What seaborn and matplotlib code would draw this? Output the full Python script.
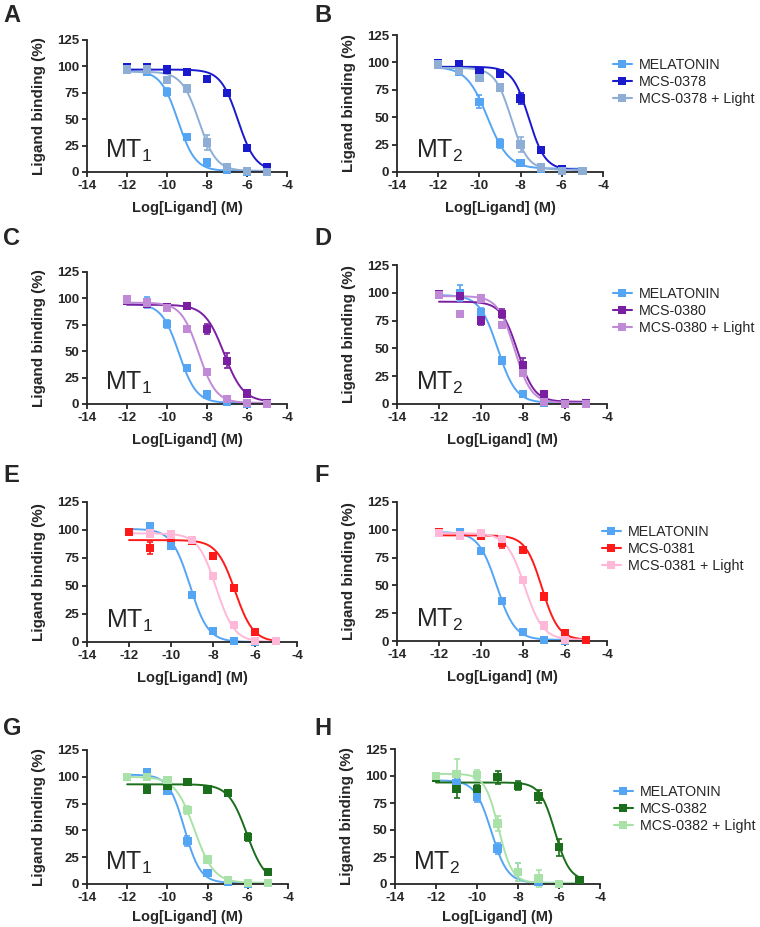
import numpy as np
import pandas as pd
import seaborn as sns
import matplotlib
matplotlib.use('Agg')
from matplotlib import pyplot as plt
from matplotlib.lines import Line2D

# concentrations tested (log M)
log_conc = [-12, -11, -10, -9, -8, -7, -6, -5]
nan = np.nan

# --- A: MT1, MCS-0378 ---
a_mel = [97, 95, 76, 33, 9, 2, 0, 0]
a_mel_err = [2, 2, 4, 3, 1, 1, 0, 0]
a_cmp = [99, 99, 97, 95, 88, 75, 23, 5]
a_cmp_err = [1, 1, 1, 2, 1, 2, 1, 1]
a_lit = [97, 97, 87, 79, 28, 5, 1, 0]
a_lit_err = [1, 2, 2, 3, 7, 1, 0, 0]
# --- B: MT2, MCS-0378 ---
b_mel = [99, 91, 64, 26, 8, 3, 1, 1]
b_mel_err = [1, 2, 6, 4, 1, 1, 0, 0]
b_cmp = [99, 98, 92, 90, 67, 20, 3, 1]
b_cmp_err = [1, 1, 1, 1, 5, 1, 1, 0]
b_lit = [98, 92, 86, 77, 25, 4, 1, 1]
b_lit_err = [1, 2, 2, 3, 7, 2, 0, 0]
# --- C: MT1, MCS-0380 ---
c_mel = [98, 96, 76, 34, 9, 2, 0, 0]
c_mel_err = [2, 5, 4, 3, 1, 1, 0, 0]
c_cmp = [98, 95, 92, 93, 71, 41, 10, 1]
c_cmp_err = [1, 1, 1, 3, 5, 7, 1, 0]
c_lit = [99, 96, 91, 71, 30, 5, 1, 0]
c_lit_err = [1, 2, 2, 2, 3, 1, 0, 0]
# --- D: MT2, MCS-0380 ---
d_mel = [99, 100, 83, 39, 9, 1, 0, 0]
d_mel_err = [1, 7, 3, 3, 2, 1, 0, 0]
d_cmp = [99, 97, 75, 81, 35, 9, 1, 1]
d_cmp_err = [1, 2, 4, 4, 6, 1, 0, 0]
d_lit = [98, 81, 95, 71, 28, 2, 0, 0]
d_lit_err = [1, 2, 1, 2, 2, 1, 0, 0]
# --- E: MT1, MCS-0381 ---
e_mel = [nan, 103, 86, 42, 10, 1, 0, nan]
e_mel_err = [0, 3, 2, 2, 1, 0, 0, 0]
e_cmp = [98, 84, 93, 90, 77, 48, 9, 1]
e_cmp_err = [1, 5, 2, 1, 1, 1, 1, 0]
e_lit = [nan, 97, 96, 91, 59, 15, 1, 1]
e_lit_err = [0, 1, 1, 1, 1, 1, 0, 0]
# --- F: MT2, MCS-0381 ---
f_mel = [98, 98, 81, 36, 8, 1, 0, nan]
f_mel_err = [1, 1, 1, 1, 1, 0, 0, 0]
f_cmp = [98, 95, 95, 88, 82, 40, 7, 1]
f_cmp_err = [1, 1, 2, 4, 1, 2, 1, 0]
f_lit = [97, 95, 97, 92, 55, 14, 1, nan]
f_lit_err = [1, 1, 1, 1, 1, 1, 0, 0]
# --- G: MT1, MCS-0382 ---
g_mel = [100, 104, 87, 40, 10, 2, 0, nan]
g_mel_err = [1, 2, 2, 5, 1, 1, 0, 0]
g_cmp = [nan, 88, 92, 95, 88, 85, 44, 11]
g_cmp_err = [0, 2, 1, 1, 2, 1, 4, 1]
g_lit = [100, 100, 97, 69, 23, 4, 1, 1]
g_lit_err = [1, 1, 1, 4, 1, 1, 0, 0]
# --- H: MT2, MCS-0382 ---
h_mel = [99, 93, 81, 33, 11, 2, 0, nan]
h_mel_err = [1, 4, 5, 5, 8, 2, 0, 0]
h_cmp = [98, 88, 88, 99, 91, 81, 34, 4]
h_cmp_err = [1, 8, 4, 6, 4, 6, 8, 1]
h_lit = [100, 102, 101, 56, 11, 5, 0, nan]
h_lit_err = [1, 14, 5, 7, 8, 8, 1, 0]

# fitted curves: (top, bottom, logIC50, hill) for melatonin, compound, compound + light
a_fit = [(96, 1, -9.45, 1.0), (97, 1, -6.45, 1.0), (95, 1, -8.4, 1.0)]
b_fit = [(96, 3, -9.6, 0.85), (96, 2, -7.6, 1.1), (95, 2, -8.45, 1.1)]
c_fit = [(95, 1, -9.4, 1.0), (94, 2, -7.15, 0.9), (96, 1, -8.42, 1.0)]
d_fit = [(98, 1, -9.2, 1.0), (92, 2, -8.25, 1.1), (97, 1, -8.4, 1.1)]
e_fit = [(101, 0, -9.1, 1.0), (91, 0, -6.95, 1.0), (97, 0, -7.85, 1.0)]
f_fit = [(98, 1, -9.25, 1.0), (95, 1, -7.1, 1.1), (97, 1, -7.92, 1.0)]
g_fit = [(102, 1, -9.15, 1.1), (93, 1, -6.05, 0.95), (100, 1, -8.65, 0.9)]
h_fit = [(96, 1, -9.3, 1.1), (94, 3, -6.2, 1.2), (102, 1, -8.95, 1.3)]

compounds = ['MCS-0378', 'MCS-0380', 'MCS-0381', 'MCS-0382']
mel_color = '#55a5f5'
cmp_colors = ['#1a1acd', '#7b1fa2', '#ff1a1a', '#1b6e1b']
lit_colors = ['#8eaed6', '#c08ad6', '#ffb8d8', '#a8e2a8']

sns.set_style('ticks')
plt.rcParams['font.family'] = ['Liberation Sans', 'DejaVu Sans']
plt.rcParams['mathtext.fontset'] = 'custom'
plt.rcParams['mathtext.rm'] = 'Liberation Sans'
plt.rcParams['mathtext.it'] = 'Liberation Sans:italic'
plt.rcParams['axes.unicode_minus'] = False

W, H = 760, 927
fig = plt.figure(figsize=(W / 100, H / 100), dpi=100)


def px_axes(x0, ytop, w, h):
    return fig.add_axes([x0 / W, 1 - (ytop + h) / H, w / W, h / H])


def draw_panel(ax, series, fits, names, colors, receptor, xlab_off=29):
    xs = np.linspace(-12, -5, 200)
    curves = []
    for name, (top, bot, ic50, hill) in zip(names, fits):
        ys = bot + (top - bot) / (1 + 10 ** ((xs - ic50) * hill))
        curves.append(pd.DataFrame({'logx': xs, 'fit': ys, 'series': name}))
    curve_df = pd.concat(curves)
    pal = dict(zip(names, colors))
    sns.lineplot(data=curve_df, x='logx', y='fit', hue='series', palette=pal,
                 legend=False, ax=ax, lw=1.4, clip_on=False)
    pts = []
    for name, (vals, errs), col in zip(names, series, colors):
        ax.errorbar(log_conc, vals, yerr=errs, fmt='none', ecolor=col,
                    elinewidth=1.2, capsize=2.5, capthick=1.2, clip_on=False)
        pts.append(pd.DataFrame({'logx': log_conc, 'val': vals, 'series': name}))
    pts_df = pd.concat(pts).dropna()
    sns.scatterplot(data=pts_df, x='logx', y='val', hue='series', palette=pal,
                    marker='s', s=36, edgecolor='none', legend=False, ax=ax,
                    clip_on=False, zorder=3)
    ax.set_xlim(-14, -4)
    ax.set_ylim(0, 125)
    ax.set_xticks(range(-14, -3, 2))
    ax.set_yticks(range(0, 126, 25))
    sns.despine(ax=ax)
    for s in ['left', 'bottom']:
        ax.spines[s].set_linewidth(1.3)
    ax.tick_params(width=1.3, length=3.5, labelsize=9.5, pad=2)
    plt.setp(ax.get_xticklabels() + ax.get_yticklabels(), fontweight='bold')
    bb = ax.get_position()
    ax.set_ylabel('Ligand binding (%)', fontsize=11, fontweight='bold')
    ax.yaxis.set_label_coords(-41 / (bb.width * W), 0.5)
    ax.set_xlabel('Log[Ligand] (M)', fontsize=10.5, fontweight='bold')
    ax.xaxis.set_label_coords(0.5, -xlab_off / (bb.height * H))
    ax.text(-13.1, 13, receptor, fontsize=18, va='baseline', ha='left')


left_rects = [(87, 40, 200, 132), (87, 272, 200, 132), (87, 502, 210, 140), (87, 750, 201, 134)]
right_rects = [(397, 35, 206, 137), (397, 265, 210, 139), (397, 502, 210, 139), (395, 749, 205, 135)]
letter_tops = [4, 227, 464, 717]
legend_pos = [(613, 58), (613, 287), (602, 525), (614, 785)]
xlab_offsets = [29, 29, 29, 26]

mt1_data = [
    [(a_mel, a_mel_err), (a_cmp, a_cmp_err), (a_lit, a_lit_err)],
    [(c_mel, c_mel_err), (c_cmp, c_cmp_err), (c_lit, c_lit_err)],
    [(e_mel, e_mel_err), (e_cmp, e_cmp_err), (e_lit, e_lit_err)],
    [(g_mel, g_mel_err), (g_cmp, g_cmp_err), (g_lit, g_lit_err)],
]
mt2_data = [
    [(b_mel, b_mel_err), (b_cmp, b_cmp_err), (b_lit, b_lit_err)],
    [(d_mel, d_mel_err), (d_cmp, d_cmp_err), (d_lit, d_lit_err)],
    [(f_mel, f_mel_err), (f_cmp, f_cmp_err), (f_lit, f_lit_err)],
    [(h_mel, h_mel_err), (h_cmp, h_cmp_err), (h_lit, h_lit_err)],
]
mt1_fits = [a_fit, c_fit, e_fit, g_fit]
mt2_fits = [b_fit, d_fit, f_fit, h_fit]
letters = ['A', 'B', 'C', 'D', 'E', 'F', 'G', 'H']

for i in range(4):
    names = ['MELATONIN', compounds[i], compounds[i] + ' + Light']
    colors = [mel_color, cmp_colors[i], lit_colors[i]]
    ax1 = px_axes(*left_rects[i])
    draw_panel(ax1, mt1_data[i], mt1_fits[i], names, colors, 'MT$_1$', xlab_offsets[i])
    ax2 = px_axes(*right_rects[i])
    draw_panel(ax2, mt2_data[i], mt2_fits[i], names, colors, 'MT$_2$', xlab_offsets[i])

    fig.text(3 / W, 1 - letter_tops[i] / H, letters[2 * i], fontsize=17,
             fontweight='bold', va='top', ha='left')
    fig.text(314 / W, 1 - letter_tops[i] / H, letters[2 * i + 1], fontsize=17,
             fontweight='bold', va='top', ha='left')

    handles = [Line2D([], [], color=c, lw=1.5, marker='s', markersize=5.5, markeredgewidth=0)
               for c in colors]
    lx, ly = legend_pos[i]
    fig.legend(handles, names, loc='upper left', bbox_to_anchor=(lx / W, 1 - ly / H),
               frameon=False, fontsize=10.3, handlelength=1.3, handletextpad=0.5,
               labelspacing=0.2, borderpad=0, borderaxespad=0)

fig.savefig('out.png', dpi=100)
